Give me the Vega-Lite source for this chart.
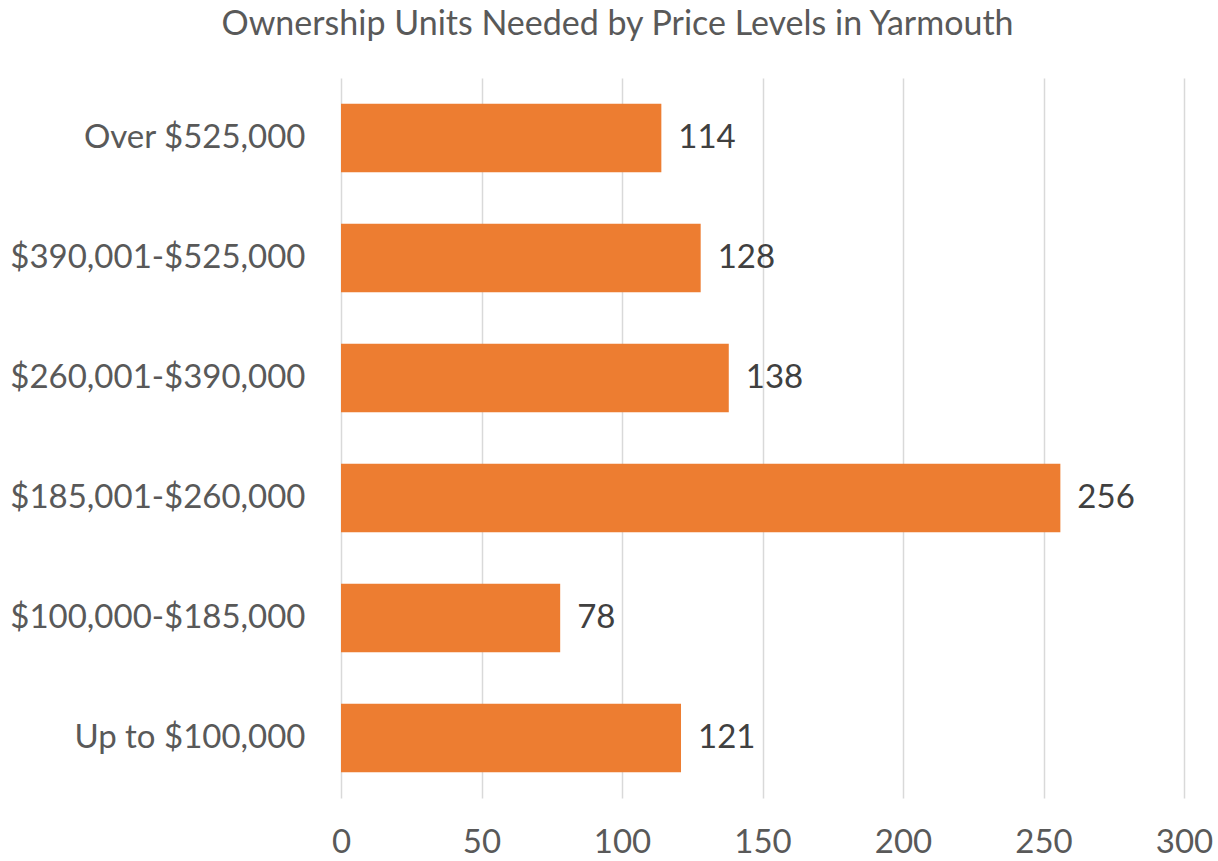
{
  "$schema": "https://vega.github.io/schema/vega-lite/v6.json",
  "width": 843,
  "height": 720,
  "autosize": {"type": "none"},
  "padding": {"left": 341, "top": 78, "right": 34, "bottom": 63},
  "background": "white",
  "title": {
    "text": "Ownership Units Needed by Price Levels in Yarmouth",
    "font": "Lato",
    "fontSize": 34,
    "fontWeight": "normal",
    "color": "#595959",
    "anchor": "middle",
    "dx": -145,
    "offset": 36
  },
  "data": {
    "values": [
      {"category": "Over $525,000", "units": 114},
      {"category": "$390,001-$525,000", "units": 128},
      {"category": "$260,001-$390,000", "units": 138},
      {"category": "$185,001-$260,000", "units": 256},
      {"category": "$100,000-$185,000", "units": 78},
      {"category": "Up to $100,000", "units": 121}
    ]
  },
  "encoding": {
    "y": {
      "field": "category",
      "type": "nominal",
      "sort": null,
      "scale": {"paddingInner": 0.43, "paddingOuter": 0.215},
      "axis": {
        "title": null,
        "domain": false,
        "ticks": false,
        "labelFont": "Lato",
        "labelFontSize": 33,
        "labelColor": "#595959",
        "labelPadding": 36,
        "labelLimit": 600
      }
    },
    "x": {
      "field": "units",
      "type": "quantitative",
      "scale": {"domain": [0, 300], "nice": false},
      "axis": {
        "title": null,
        "values": [0, 50, 100, 150, 200, 250, 300],
        "domain": false,
        "ticks": false,
        "grid": true,
        "gridColor": "#D9D9D9",
        "gridWidth": 1.5,
        "labelFlush": false,
        "labelOverlap": false,
        "labelFont": "Lato",
        "labelFontSize": 33,
        "labelColor": "#595959",
        "labelPadding": 28
      }
    }
  },
  "layer": [
    {"mark": {"type": "bar", "color": "#ED7D31"}},
    {
      "mark": {
        "type": "text",
        "align": "left",
        "baseline": "middle",
        "dx": 17,
        "font": "Lato",
        "fontSize": 33,
        "color": "#404040"
      },
      "encoding": {"text": {"field": "units", "type": "quantitative"}}
    }
  ],
  "config": {"view": {"stroke": null}}
}
